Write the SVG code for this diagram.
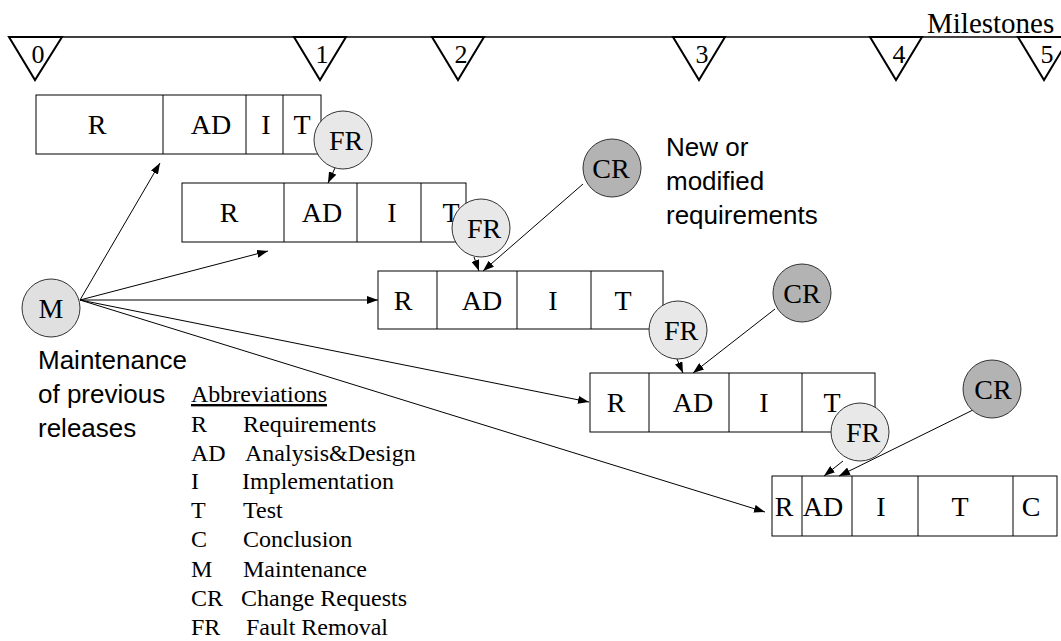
<svg xmlns="http://www.w3.org/2000/svg" width="1061" height="641" viewBox="0 0 1061 641">
  <defs>
    <marker id="arrow" markerUnits="userSpaceOnUse" markerWidth="11" markerHeight="8" refX="11" refY="4" orient="auto">
      <path d="M0,0 L11,4 L0,8 z" fill="#000"/>
    </marker>
    <style>
      .serif { font-family: "Liberation Serif", "Times New Roman", serif; fill: #000; }
      .sans { font-family: "Liberation Sans", Arial, sans-serif; fill: #000; font-size: 26px; }
      .lbl { font-size: 28px; text-anchor: middle; }
      .digit { font-size: 26px; text-anchor: middle; }
      .leg { font-size: 24px; }
      .box { fill: #fff; stroke: #000; stroke-width: 1; }
      .div { stroke: #000; stroke-width: 1; }
      .tri { fill: #fff; stroke: #000; stroke-width: 2; stroke-linejoin: miter; }
      .conn { stroke: #000; stroke-width: 1; fill: none; marker-end: url(#arrow); }
      .fr { fill: #e8e8e8; stroke: #333; stroke-width: 1; }
      .cr { fill: #b3b3b3; stroke: #333; stroke-width: 1; }
      .mt { fill: #e0e0e0; stroke: #333; stroke-width: 1; }
    </style>
  </defs>
  <rect width="1061" height="641" fill="#fff"/>

  <!-- milestone timeline -->
  <g id="timeline">
    <line x1="9" y1="37" x2="1061" y2="37" stroke="#000" stroke-width="1.5"/>
    <text class="serif" x="927" y="33" font-size="29">Milestones</text>
  </g>
  <g id="milestone-0"><polygon class="tri" points="9,37 62,37 35,80"/><text class="serif digit" x="38" y="63">0</text></g>
  <g id="milestone-1"><polygon class="tri" points="294,37 346,37 320,80"/><text class="serif digit" x="322" y="63">1</text></g>
  <g id="milestone-2"><polygon class="tri" points="432,37 484,37 458,80"/><text class="serif digit" x="461" y="63">2</text></g>
  <g id="milestone-3"><polygon class="tri" points="673,37 725,37 699,80"/><text class="serif digit" x="702" y="63">3</text></g>
  <g id="milestone-4"><polygon class="tri" points="870,37 922,37 896,80"/><text class="serif digit" x="899" y="63">4</text></g>
  <g id="milestone-5"><polygon class="tri" points="1018,37 1070,37 1044,80"/><text class="serif digit" x="1047" y="63">5</text></g>

  <!-- release 1 -->
  <g id="release-1">
    <rect class="box" x="36" y="95" width="285" height="59"/>
    <line class="div" x1="163" y1="95" x2="163" y2="154"/>
    <line class="div" x1="246" y1="95" x2="246" y2="154"/>
    <line class="div" x1="283" y1="95" x2="283" y2="154"/>
    <text class="serif lbl" x="97" y="134">R</text>
    <text class="serif lbl" x="211" y="134">AD</text>
    <text class="serif lbl" x="266" y="134">I</text>
    <text class="serif lbl" x="302" y="134">T</text>
  </g>

  <!-- release 2 -->
  <g id="release-2">
    <rect class="box" x="182" y="183" width="284" height="59"/>
    <line class="div" x1="284" y1="183" x2="284" y2="242"/>
    <line class="div" x1="357" y1="183" x2="357" y2="242"/>
    <line class="div" x1="421" y1="183" x2="421" y2="242"/>
    <text class="serif lbl" x="229" y="222">R</text>
    <text class="serif lbl" x="322" y="222">AD</text>
    <text class="serif lbl" x="392" y="222">I</text>
    <text class="serif lbl" x="451" y="222">T</text>
  </g>

  <!-- release 3 -->
  <g id="release-3">
    <rect class="box" x="378" y="271" width="285" height="58"/>
    <line class="div" x1="437" y1="271" x2="437" y2="329"/>
    <line class="div" x1="517" y1="271" x2="517" y2="329"/>
    <line class="div" x1="591" y1="271" x2="591" y2="329"/>
    <text class="serif lbl" x="403" y="310">R</text>
    <text class="serif lbl" x="482" y="310">AD</text>
    <text class="serif lbl" x="553" y="310">I</text>
    <text class="serif lbl" x="623" y="310">T</text>
  </g>

  <!-- release 4 -->
  <g id="release-4">
    <rect class="box" x="590" y="373" width="285" height="59"/>
    <line class="div" x1="649" y1="373" x2="649" y2="432"/>
    <line class="div" x1="729" y1="373" x2="729" y2="432"/>
    <line class="div" x1="802" y1="373" x2="802" y2="432"/>
    <text class="serif lbl" x="616" y="412">R</text>
    <text class="serif lbl" x="693" y="412">AD</text>
    <text class="serif lbl" x="764" y="412">I</text>
    <text class="serif lbl" x="832" y="412">T</text>
  </g>

  <!-- release 5 -->
  <g id="release-5">
    <rect class="box" x="772" y="476" width="285" height="60"/>
    <line class="div" x1="802" y1="476" x2="802" y2="536"/>
    <line class="div" x1="852" y1="476" x2="852" y2="536"/>
    <line class="div" x1="918" y1="476" x2="918" y2="536"/>
    <line class="div" x1="1013" y1="476" x2="1013" y2="536"/>
    <text class="serif lbl" x="784" y="516">R</text>
    <text class="serif lbl" x="823" y="516">AD</text>
    <text class="serif lbl" x="881" y="516">I</text>
    <text class="serif lbl" x="960" y="516">T</text>
    <text class="serif lbl" x="1031" y="516">C</text>
  </g>

  <!-- connectors -->
  <g id="connectors">
    <line class="conn" x1="80" y1="300" x2="160" y2="163"/>
    <line class="conn" x1="80" y1="300" x2="268" y2="251"/>
    <line class="conn" x1="80" y1="300" x2="378" y2="300"/>
    <line class="conn" x1="80" y1="300" x2="589" y2="402"/>
    <line class="conn" x1="80" y1="300" x2="765" y2="512"/>
    <line class="conn" x1="335" y1="168" x2="328" y2="183"/>
    <line class="conn" x1="474" y1="257" x2="479" y2="271"/>
    <line class="conn" x1="583" y1="184" x2="483" y2="271"/>
    <line class="conn" x1="677" y1="359" x2="683" y2="373"/>
    <line class="conn" x1="775" y1="309" x2="693" y2="373"/>
    <line class="conn" x1="843" y1="461" x2="824" y2="476"/>
    <line class="conn" x1="975" y1="409" x2="839" y2="476"/>
  </g>

  <!-- maintenance -->
  <g id="maintenance">
    <circle class="mt" cx="51" cy="308" r="29"/>
    <text class="serif lbl" x="51" y="318">M</text>
  </g>
  <g id="maintenance-note">
    <text class="sans" x="38" y="369">Maintenance</text>
    <text class="sans" x="38" y="403">of previous</text>
    <text class="sans" x="38" y="437">releases</text>
  </g>

  <!-- fault removal -->
  <g id="fr-1"><circle class="fr" cx="343" cy="140" r="29"/><text class="serif lbl" x="346" y="150">FR</text></g>
  <g id="fr-2"><circle class="fr" cx="481" cy="228" r="29"/><text class="serif lbl" x="484" y="238">FR</text></g>
  <g id="fr-3"><circle class="fr" cx="678" cy="330" r="29"/><text class="serif lbl" x="681" y="340">FR</text></g>
  <g id="fr-4"><circle class="fr" cx="860" cy="432" r="29"/><text class="serif lbl" x="863" y="442">FR</text></g>

  <!-- change requests -->
  <g id="cr-1"><circle class="cr" cx="612" cy="168" r="29"/><text class="serif lbl" x="611" y="178">CR</text></g>
  <g id="cr-2"><circle class="cr" cx="802" cy="293" r="29"/><text class="serif lbl" x="802" y="303">CR</text></g>
  <g id="cr-3"><circle class="cr" cx="992" cy="389" r="29"/><text class="serif lbl" x="993" y="399">CR</text></g>

  <g id="cr-note">
    <text class="sans" x="666" y="156">New or</text>
    <text class="sans" x="666" y="190">modified</text>
    <text class="sans" x="666" y="224">requirements</text>
  </g>

  <!-- legend -->
  <g id="legend" class="serif leg">
    <text x="191" y="402" text-decoration="underline">Abbreviations</text>
    <text x="191" y="432">R</text><text x="243" y="432">Requirements</text>
    <text x="191" y="461">AD</text><text x="245" y="461">Analysis&amp;Design</text>
    <text x="191" y="489">I</text><text x="242" y="489">Implementation</text>
    <text x="191" y="518">T</text><text x="243" y="518">Test</text>
    <text x="191" y="547">C</text><text x="243" y="547">Conclusion</text>
    <text x="191" y="577">M</text><text x="243" y="577">Maintenance</text>
    <text x="191" y="606">CR</text><text x="241" y="606">Change Requests</text>
    <text x="191" y="635">FR</text><text x="246" y="635">Fault Removal</text>
  </g>
</svg>
